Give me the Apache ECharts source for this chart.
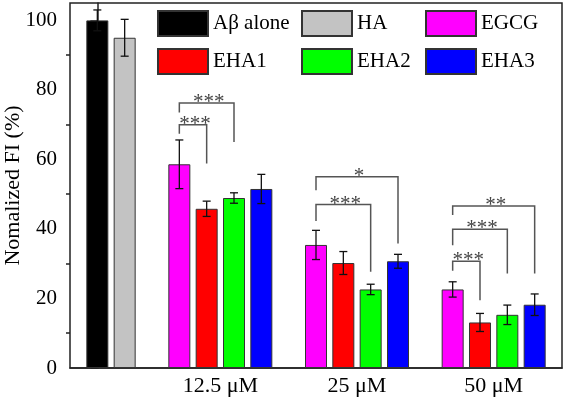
<!DOCTYPE html>
<html><head><meta charset="utf-8">
<script src="https://cdn.jsdelivr.net/npm/echarts@6/dist/echarts.min.js"></script>
<style>html,body{margin:0;padding:0;background:#fff}#c{width:566px;height:403px}</style>
</head><body><div id="c"></div>
<script>
// ---------- data ----------
const groupLabels = ['12.5 μM', '25 μM', '50 μM'];
const controlNames = ['Aβ alone', 'HA'];
const controlValues = [100, 95];
const controlErrors = [3.0, 5.3];
const treatmentNames = ['EGCG', 'EHA1', 'EHA2', 'EHA3'];
const egcgValues = [58.6, 35.4, 22.6];
const egcgErrors = [7.0, 4.2, 2.2];
const eha1Values = [45.8, 30.2, 13.1];
const eha1Errors = [2.2, 3.3, 2.6];
const eha2Values = [48.9, 22.6, 15.3];
const eha2Errors = [1.5, 1.5, 2.8];
const eha3Values = [51.5, 30.7, 18.2];
const eha3Errors = [4.2, 2.0, 3.1];
const yTicks = [0, 20, 40, 60, 80, 100];
const yMinorTicks = [10, 30, 50, 70, 90];
// significance brackets: group, from treatment, to treatment, bracket level, left leg end, right leg end
const sigGroup = [0, 0, 1, 1, 2, 2, 2];
const sigFrom = [0, 0, 0, 0, 0, 0, 0];
const sigTo = [1, 2, 3, 2, 3, 2, 1];
const sigLevel = [70.0, 76.2, 55.0, 47.0, 46.6, 39.9, 30.7];
const sigLeftEnd = [67.4, 73.5, 51.1, 42.3, 44.0, 35.3, 28.0];
const sigRightEnd = [58.8, 65.0, 35.8, 27.7, 27.2, 27.2, 19.5];
const sigLabels = ['***', '***', '*', '***', '**', '***', '***'];

// ---------- build ----------
const treatValues = [egcgValues, eha1Values, eha2Values, eha3Values];
const treatErrors = [egcgErrors, eha1Errors, eha2Errors, eha3Errors];
const colors = {'Aβ alone':'#000000','HA':'#c3c3c3','EGCG':'#ff00ff','EHA1':'#ff0000','EHA2':'#00ff00','EHA3':'#0000ff'};
const slotOf = (g, s) => 3 + 5 * g + s;
const labelPos = groupLabels.map((_, g) => slotOf(g, 0) + 1.5);
const FONT = "'Liberation Serif','Times New Roman',serif";

const series = [];
const errData = [];
controlNames.forEach((n, i) => {
  series.push({name: n, type: 'bar', barWidth: 22, barGap: '-100%',
    itemStyle: {color: colors[n], borderColor: '#333', borderWidth: 1},
    data: [[i, controlValues[i]]]});
  errData.push([i, controlValues[i], controlErrors[i]]);
});
treatmentNames.forEach((n, s) => {
  series.push({name: n, type: 'bar', barWidth: 22, barGap: '-100%',
    itemStyle: {color: colors[n], borderColor: '#333', borderWidth: 1},
    data: groupLabels.map((_, g) => [slotOf(g, s), treatValues[s][g]])});
  groupLabels.forEach((_, g) => errData.push([slotOf(g, s), treatValues[s][g], treatErrors[s][g]]));
});
series.push({type: 'custom', z: 10, silent: true, data: errData,
  renderItem(params, api) {
    const x = api.value(0), v = api.value(1), e = api.value(2);
    const t = api.coord([x, v + e]), b = api.coord([x, v - e]);
    const st = {stroke: '#111', lineWidth: 1.3};
    return {type: 'group', children: [
      {type: 'line', shape: {x1: t[0], y1: t[1], x2: b[0], y2: b[1]}, style: st},
      {type: 'line', shape: {x1: t[0] - 4, y1: t[1], x2: t[0] + 4, y2: t[1]}, style: st},
      {type: 'line', shape: {x1: b[0] - 4, y1: b[1], x2: b[0] + 4, y2: b[1]}, style: st}
    ]};
  }});
const sigData = sigGroup.map((g, i) => [slotOf(g, sigFrom[i]), slotOf(g, sigTo[i]), sigLevel[i], sigLeftEnd[i], sigRightEnd[i]]);
series.push({type: 'custom', z: 11, silent: true, data: sigData,
  renderItem(params, api) {
    const xl = api.value(0), xr = api.value(1), lv = api.value(2), le = api.value(3), re = api.value(4);
    const pL = api.coord([xl, lv]), pR = api.coord([xr, lv]);
    const pLe = api.coord([xl, le]), pRe = api.coord([xr, re]);
    return {type: 'group', children: [
      {type: 'polyline', shape: {points: [pLe, pL, pR, pRe]}, style: {stroke: '#555', lineWidth: 1.5, fill: null}},
      {type: 'text', x: (pL[0] + pR[0]) / 2 + 2, y: pL[1] - 0.5,
        style: {text: sigLabels[params.dataIndex], fontSize: 21, fontFamily: FONT, fill: '#444', align: 'center', verticalAlign: 'middle'}}
    ]};
  }});

const legendCols = [['Aβ alone', 'EHA1'], ['HA', 'EHA2'], ['EGCG', 'EHA3']];
const legendLeft = [157, 301, 425];
const legends = legendCols.map((d, i) => ({
  data: d, orient: 'vertical', left: legendLeft[i], top: 10, padding: 0, icon: 'rect',
  itemWidth: 50, itemHeight: 25, itemGap: 11, selectedMode: false,
  textStyle: {fontSize: 21, fontFamily: FONT, color: '#000'}
}));

const option = {
  animation: false,
  backgroundColor: '#fff',
  grid: {left: 70, right: 4, top: 3, bottom: 35, show: true, borderColor: '#222', borderWidth: 1.5,
    containLabel: false, outerBoundsMode: 'none'},
  legend: legends,
  xAxis: {type: 'value', min: -1, max: 17,
    axisLine: {lineStyle: {color: '#222', width: 1.5}},
    axisTick: {show: false}, splitLine: {show: false},
    axisLabel: {customValues: labelPos, margin: 7, fontSize: 22, fontFamily: FONT, color: '#000',
      formatter: v => groupLabels[labelPos.findIndex(p => Math.abs(p - v) < 1e-6)] || ''}},
  yAxis: [
    {type: 'value', min: 0, max: 105, name: 'Nomalized FI (%)', nameLocation: 'middle', nameGap: 46,
      nameMoveOverlap: false,
      nameTextStyle: {fontSize: 22, fontFamily: FONT, color: '#000'},
      axisLine: {show: true, lineStyle: {color: '#222', width: 1.5}},
      axisTick: {show: true, customValues: yTicks, length: 7, lineStyle: {color: '#222', width: 1.5}},
      axisLabel: {customValues: yTicks, margin: 13, fontSize: 21, fontFamily: FONT, color: '#000'},
      splitLine: {show: false}},
    {type: 'value', min: 0, max: 105, position: 'left',
      axisLine: {show: false},
      axisTick: {show: true, customValues: yMinorTicks, length: 4, lineStyle: {color: '#222', width: 1.5}},
      axisLabel: {show: false}, splitLine: {show: false}}
  ],
  series
};
echarts.init(document.getElementById('c')).setOption(option);
</script></body></html>
